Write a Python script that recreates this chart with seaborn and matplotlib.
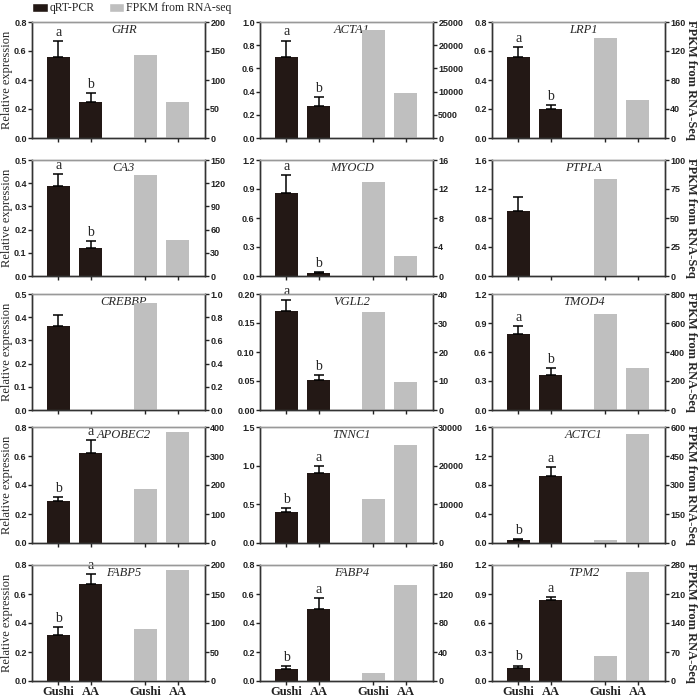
import numpy as np
import pandas as pd
import matplotlib
matplotlib.use('Agg')
import matplotlib.pyplot as plt
import seaborn as sns
from matplotlib.patches import Patch

# --- data ---
genes = ['GHR', 'ACTA1', 'LRP1', 'CA3', 'MYOCD', 'PTPLA', 'CREBBP', 'VGLL2', 'TMOD4',
         'APOBEC2', 'TNNC1', 'ACTC1', 'FABP5', 'FABP4', 'TPM2']
groups = ['Gushi', 'AA']
qpcr_gushi = [0.56, 0.70, 0.56, 0.39, 0.86, 0.90, 0.36, 0.17, 0.79, 0.29, 0.40, 0.045, 0.32, 0.08, 0.135]
qpcr_aa = [0.25, 0.275, 0.20, 0.12, 0.035, 0.0, 0.0, 0.051, 0.36, 0.62, 0.90, 0.92, 0.67, 0.50, 0.835]
se_gushi = [0.11, 0.14, 0.07, 0.05, 0.18, 0.19, 0.05, 0.02, 0.08, 0.03, 0.05, 0.01, 0.05, 0.025, 0.025]
se_aa = [0.06, 0.075, 0.03, 0.03, 0.005, 0.0, 0.0, 0.009, 0.07, 0.09, 0.10, 0.13, 0.07, 0.07, 0.03]
fpkm_gushi = [143, 23300, 138, 130, 12.9, 84, 0.92, 33.8, 660, 187, 11400, 14, 89, 11.5, 60]
fpkm_aa = [62, 9800, 53, 47, 2.7, 0, 0, 9.6, 290, 384, 25400, 562, 191, 132, 262]
letters_gushi = ['a', 'a', 'a', 'a', 'a', '', '', 'a', 'a', 'b', 'b', 'b', 'b', 'b', 'b']
letters_aa = ['b', 'b', 'b', 'b', 'b', '', '', 'b', 'b', 'a', 'a', 'a', 'a', 'a', 'a']
left_max = [0.8, 1.0, 0.8, 0.5, 1.2, 1.6, 0.5, 0.20, 1.2, 0.8, 1.5, 1.6, 0.8, 0.8, 1.2]
left_step = [0.2, 0.2, 0.2, 0.1, 0.3, 0.4, 0.1, 0.05, 0.3, 0.2, 0.5, 0.4, 0.2, 0.2, 0.3]
right_max = [200, 25000, 160, 150, 16, 100, 1.0, 40, 800, 400, 30000, 600, 200, 160, 280]
right_step = [50, 5000, 40, 30, 4, 25, 0.2, 10, 200, 100, 10000, 150, 50, 40, 70]

qpcr_pos = [0, 1]
fpkm_pos = [2.7, 3.7]

BLACK = '#231815'
GREY = '#bfbfbf'
SERIF = ['Liberation Serif', 'DejaVu Serif']
SANS = ['Liberation Sans', 'DejaVu Sans']

sns.set_style('ticks')
plt.rcParams['font.family'] = SANS
plt.rcParams['axes.linewidth'] = 1.0

fig = plt.figure(figsize=(7.0, 6.97), dpi=100)
W, H = 700, 697
col_left = [32, 260, 492]
row_top = [22, 160, 294, 427, 565]
pw, ph = 173, 116

for i, gene in enumerate(genes):
    r, c = divmod(i, 3)
    ax = fig.add_axes([col_left[c] / W, 1 - (row_top[r] + ph) / H, pw / W, ph / H])
    ax2 = ax.twinx()

    df_q = pd.DataFrame({'pos': qpcr_pos, 'val': [qpcr_gushi[i], qpcr_aa[i]]})
    df_f = pd.DataFrame({'pos': fpkm_pos, 'val': [fpkm_gushi[i], fpkm_aa[i]]})
    sns.barplot(data=df_q, x='pos', y='val', native_scale=True, color=BLACK,
                saturation=1, width=0.7, linewidth=0, errorbar=None, ax=ax)
    sns.barplot(data=df_f, x='pos', y='val', native_scale=True, color=GREY,
                saturation=1, width=0.7, linewidth=0, errorbar=None, ax=ax2)

    means = np.array([qpcr_gushi[i], qpcr_aa[i]])
    errs = np.array([se_gushi[i], se_aa[i]])
    mask = means > 0
    ax.errorbar(np.array(qpcr_pos)[mask], means[mask],
                yerr=[np.zeros(mask.sum()), errs[mask]],
                fmt='none', ecolor='black', elinewidth=1.1, capsize=3.5, capthick=1.1)
    for p, m, e, lab in zip(qpcr_pos, means, errs, [letters_gushi[i], letters_aa[i]]):
        if lab:
            ax.annotate(lab, (p, m + e), xytext=(0, 1.5), textcoords='offset points',
                        ha='center', va='bottom', fontsize=10, family=SERIF,
                        annotation_clip=False)

    # gene name, a touch right of centre like the original
    ax.text(0.53, 0.93, gene, transform=ax.transAxes, ha='center', va='center',
            fontsize=9, style='italic', family=SERIF)

    ax.set_ylim(0, left_max[i])
    ax.set_yticks(np.arange(0, left_max[i] + left_step[i] / 2, left_step[i]))
    ax2.set_ylim(0, right_max[i])
    ax2.set_yticks(np.arange(0, right_max[i] + right_step[i] / 2, right_step[i]))
    ax.set_xlim(-0.82, 4.55)
    ax.set_xticks(qpcr_pos + fpkm_pos)
    ax.set_xlabel('')
    ax.set_ylabel('')
    ax2.set_xlabel('')
    ax2.set_ylabel('')

    for a in (ax, ax2):
        a.tick_params(axis='y', direction='out', length=3, width=1, pad=0.8,
                      labelsize=6.5, colors='#222222')
        a.tick_params(axis='x', direction='out', length=3, width=1, pad=0.3,
                      colors='#222222')
        for lab in a.get_yticklabels():
            lab.set_fontweight('bold')
        for s in ['left', 'right', 'bottom']:
            a.spines[s].set_visible(True)
            a.spines[s].set_color('#333333')
        a.spines['top'].set_visible(True)
        a.spines['top'].set_color('#999999')

    if r == 4:
        ax.set_xticklabels(groups + groups, fontsize=9, fontweight='bold', family=SERIF)
    else:
        ax.set_xticklabels([])

    y_mid = 1 - (row_top[r] + ph / 2) / H
    if c == 0:
        fig.text(7.5 / W, y_mid, 'Relative expression', rotation=90, ha='center',
                 va='center', fontsize=9, family=SERIF)
    if c == 2:
        fig.text(691 / W, y_mid, 'FPKM from RNA-Seq', rotation=270, ha='center',
                 va='center', fontsize=9, fontweight='bold', family=SERIF)

handles = [Patch(facecolor=BLACK, label='qRT-PCR'),
           Patch(facecolor=GREY, label='FPKM from RNA-seq')]
fig.legend(handles=handles, loc='upper left', bbox_to_anchor=(30 / W, 1.0), ncol=2,
           frameon=False, handlelength=1.3, handleheight=0.8, handletextpad=0.15,
           columnspacing=1.2, borderaxespad=0, borderpad=0.2,
           prop={'family': SERIF, 'size': 8.5})

fig.savefig('out.png', dpi=100)
